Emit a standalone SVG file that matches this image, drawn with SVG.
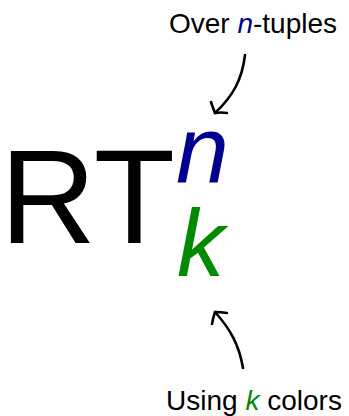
<svg xmlns="http://www.w3.org/2000/svg" width="349" height="416" viewBox="0 0 349 416">
<style>
text{font-family:"Liberation Sans",Arial,sans-serif}
.lbl{font-size:28px;fill:#000}
.it{font-style:italic}
.blue{fill:#000090}
.green{fill:#008a00}
.arr{fill:none;stroke:#000;stroke-width:2.6;stroke-linecap:round;stroke-linejoin:round}
</style>
<rect width="349" height="416" fill="#fff"/>
<g id="main">
<text x="0" y="243" font-size="133" fill="#000">RT</text>
</g>
<g id="sup">
<text x="176" y="183" font-size="95" class="it blue">n</text>
</g>
<g id="sub">
<text x="177" y="276" font-size="95" class="it green">k</text>
</g>
<g id="top-label">
<text x="253" y="33" text-anchor="middle" class="lbl">Over <tspan class="it blue">n</tspan>-tuples</text>
</g>
<g id="bottom-label">
<text x="254" y="410" text-anchor="middle" class="lbl">Using <tspan class="it green">k</tspan> colors</text>
</g>
<g id="connectors">
<path class="arr" d="M245,55 C242,80 233,96 215,113"/>
<path class="arr" d="M211,102 Q213,108 215,113 Q221,112 227,113"/>
<path class="arr" d="M243,368 C239,345 231,330 215,312"/>
<path class="arr" d="M212,324 Q213,318 215,312 Q221,312 227,313"/>
</g>
</svg>
